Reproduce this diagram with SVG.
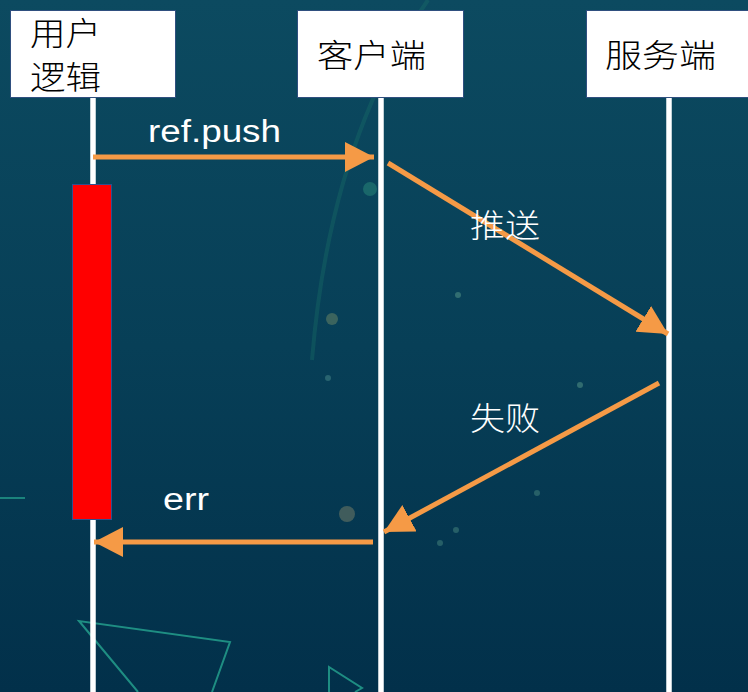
<svg xmlns="http://www.w3.org/2000/svg" width="748" height="692" viewBox="0 0 748 692">
  <defs>
    <linearGradient id="bg" x1="0" y1="0" x2="0" y2="1">
      <stop offset="0" stop-color="#0c4a60"/>
      <stop offset="0.5" stop-color="#073f57"/>
      <stop offset="1" stop-color="#02304a"/>
    </linearGradient>
    <marker id="ah" viewBox="0 0 29 30" refX="29" refY="15" markerWidth="29" markerHeight="30" markerUnits="userSpaceOnUse" orient="auto">
      <path d="M0,0 L29,15 L0,30 Z" fill="#f59a46"/>
    </marker>
    <style>
      .box { fill: #ffffff; stroke: #2f4f7f; stroke-width: 1; }
      .life { stroke: #ffffff; stroke-width: 5.5; }
      .msg { stroke: #f59a46; stroke-width: 5; fill: none; marker-end: url(#ah); }
      .cjk { font-family: "Noto Sans CJK SC", sans-serif; font-size: 32px; fill: #000000; font-weight: 300; }
      .lbl { font-family: "Liberation Sans", Arial, sans-serif; font-size: 31px; fill: #ffffff; }
      .lblcjk { font-family: "Noto Sans CJK SC", sans-serif; font-size: 32px; fill: #ffffff; font-weight: 300; }
      .deco { fill: none; stroke: #2bb59a; stroke-width: 2; opacity: 0.7; }
    </style>
  </defs>

  <rect x="0" y="0" width="748" height="692" fill="url(#bg)"/>

  <g id="background-decor">
    <path d="M 428 0 Q 330 140 312 360" stroke="#1e7a6a" stroke-width="4" fill="none" opacity="0.3"/>
    <polyline class="deco" points="138,692 79,621 230,642 212,692"/>
    <polyline class="deco" points="329,692 329,667 362,688 355,692" opacity="0.5"/>
    <line x1="0" y1="498" x2="25" y2="498" stroke="#2bb59a" stroke-width="2" opacity="0.6"/>
    <circle cx="370" cy="189" r="7" fill="#2a8a7a" opacity="0.5"/>
    <circle cx="332" cy="319" r="6" fill="#8a9a6a" opacity="0.4"/>
    <circle cx="347" cy="514" r="8" fill="#8a8a6a" opacity="0.45"/>
    <circle cx="328" cy="378" r="3" fill="#4a8a8a" opacity="0.5"/>
    <circle cx="458" cy="295" r="3" fill="#5a9a8a" opacity="0.5"/>
    <circle cx="580" cy="385" r="3" fill="#5a9a8a" opacity="0.5"/>
    <circle cx="440" cy="543" r="3" fill="#5a9a8a" opacity="0.4"/>
    <circle cx="456" cy="530" r="3" fill="#5a9a8a" opacity="0.4"/>
    <circle cx="537" cy="493" r="3" fill="#5a9a8a" opacity="0.4"/>
  </g>

  <g id="lifelines">
    <line class="life" x1="93" y1="97" x2="93" y2="692"/>
    <line class="life" x1="381" y1="97" x2="381" y2="692"/>
    <line class="life" x1="669" y1="97" x2="669" y2="692"/>
  </g>

  <g id="node-user">
    <rect class="box" x="10.5" y="10.5" width="165" height="87"/>
    <text class="cjk" x="30" y="45" textLength="71" lengthAdjust="spacingAndGlyphs">用户</text>
    <text class="cjk" x="30" y="89" textLength="71" lengthAdjust="spacingAndGlyphs">逻辑</text>
  </g>
  <g id="node-client">
    <rect class="box" x="297.5" y="10.5" width="166" height="87"/>
    <text class="cjk" x="317" y="67" textLength="109" lengthAdjust="spacingAndGlyphs">客户端</text>
  </g>
  <g id="node-server">
    <rect class="box" x="586.5" y="10.5" width="170" height="87"/>
    <text class="cjk" x="605" y="67" textLength="111" lengthAdjust="spacingAndGlyphs">服务端</text>
  </g>

  <g id="activation">
    <rect x="72.5" y="184.5" width="39" height="335" fill="#ff0000" stroke="#2f4f8f" stroke-width="1"/>
  </g>

  <g id="connectors">
    <line class="msg" x1="93" y1="157" x2="374" y2="157"/>
    <line class="msg" x1="388" y1="163" x2="668" y2="334"/>
    <line class="msg" x1="659" y1="383" x2="384" y2="532"/>
    <line class="msg" x1="373" y1="542" x2="94" y2="542"/>
  </g>

  <g id="labels">
    <text class="lbl" x="148" y="142" textLength="133" lengthAdjust="spacingAndGlyphs">ref.push</text>
    <text class="lblcjk" x="470" y="237" textLength="70" lengthAdjust="spacingAndGlyphs">推送</text>
    <text class="lblcjk" x="470" y="430" textLength="70" lengthAdjust="spacingAndGlyphs">失败</text>
    <text class="lbl" x="163" y="510" textLength="46" lengthAdjust="spacingAndGlyphs">err</text>
  </g>
</svg>
